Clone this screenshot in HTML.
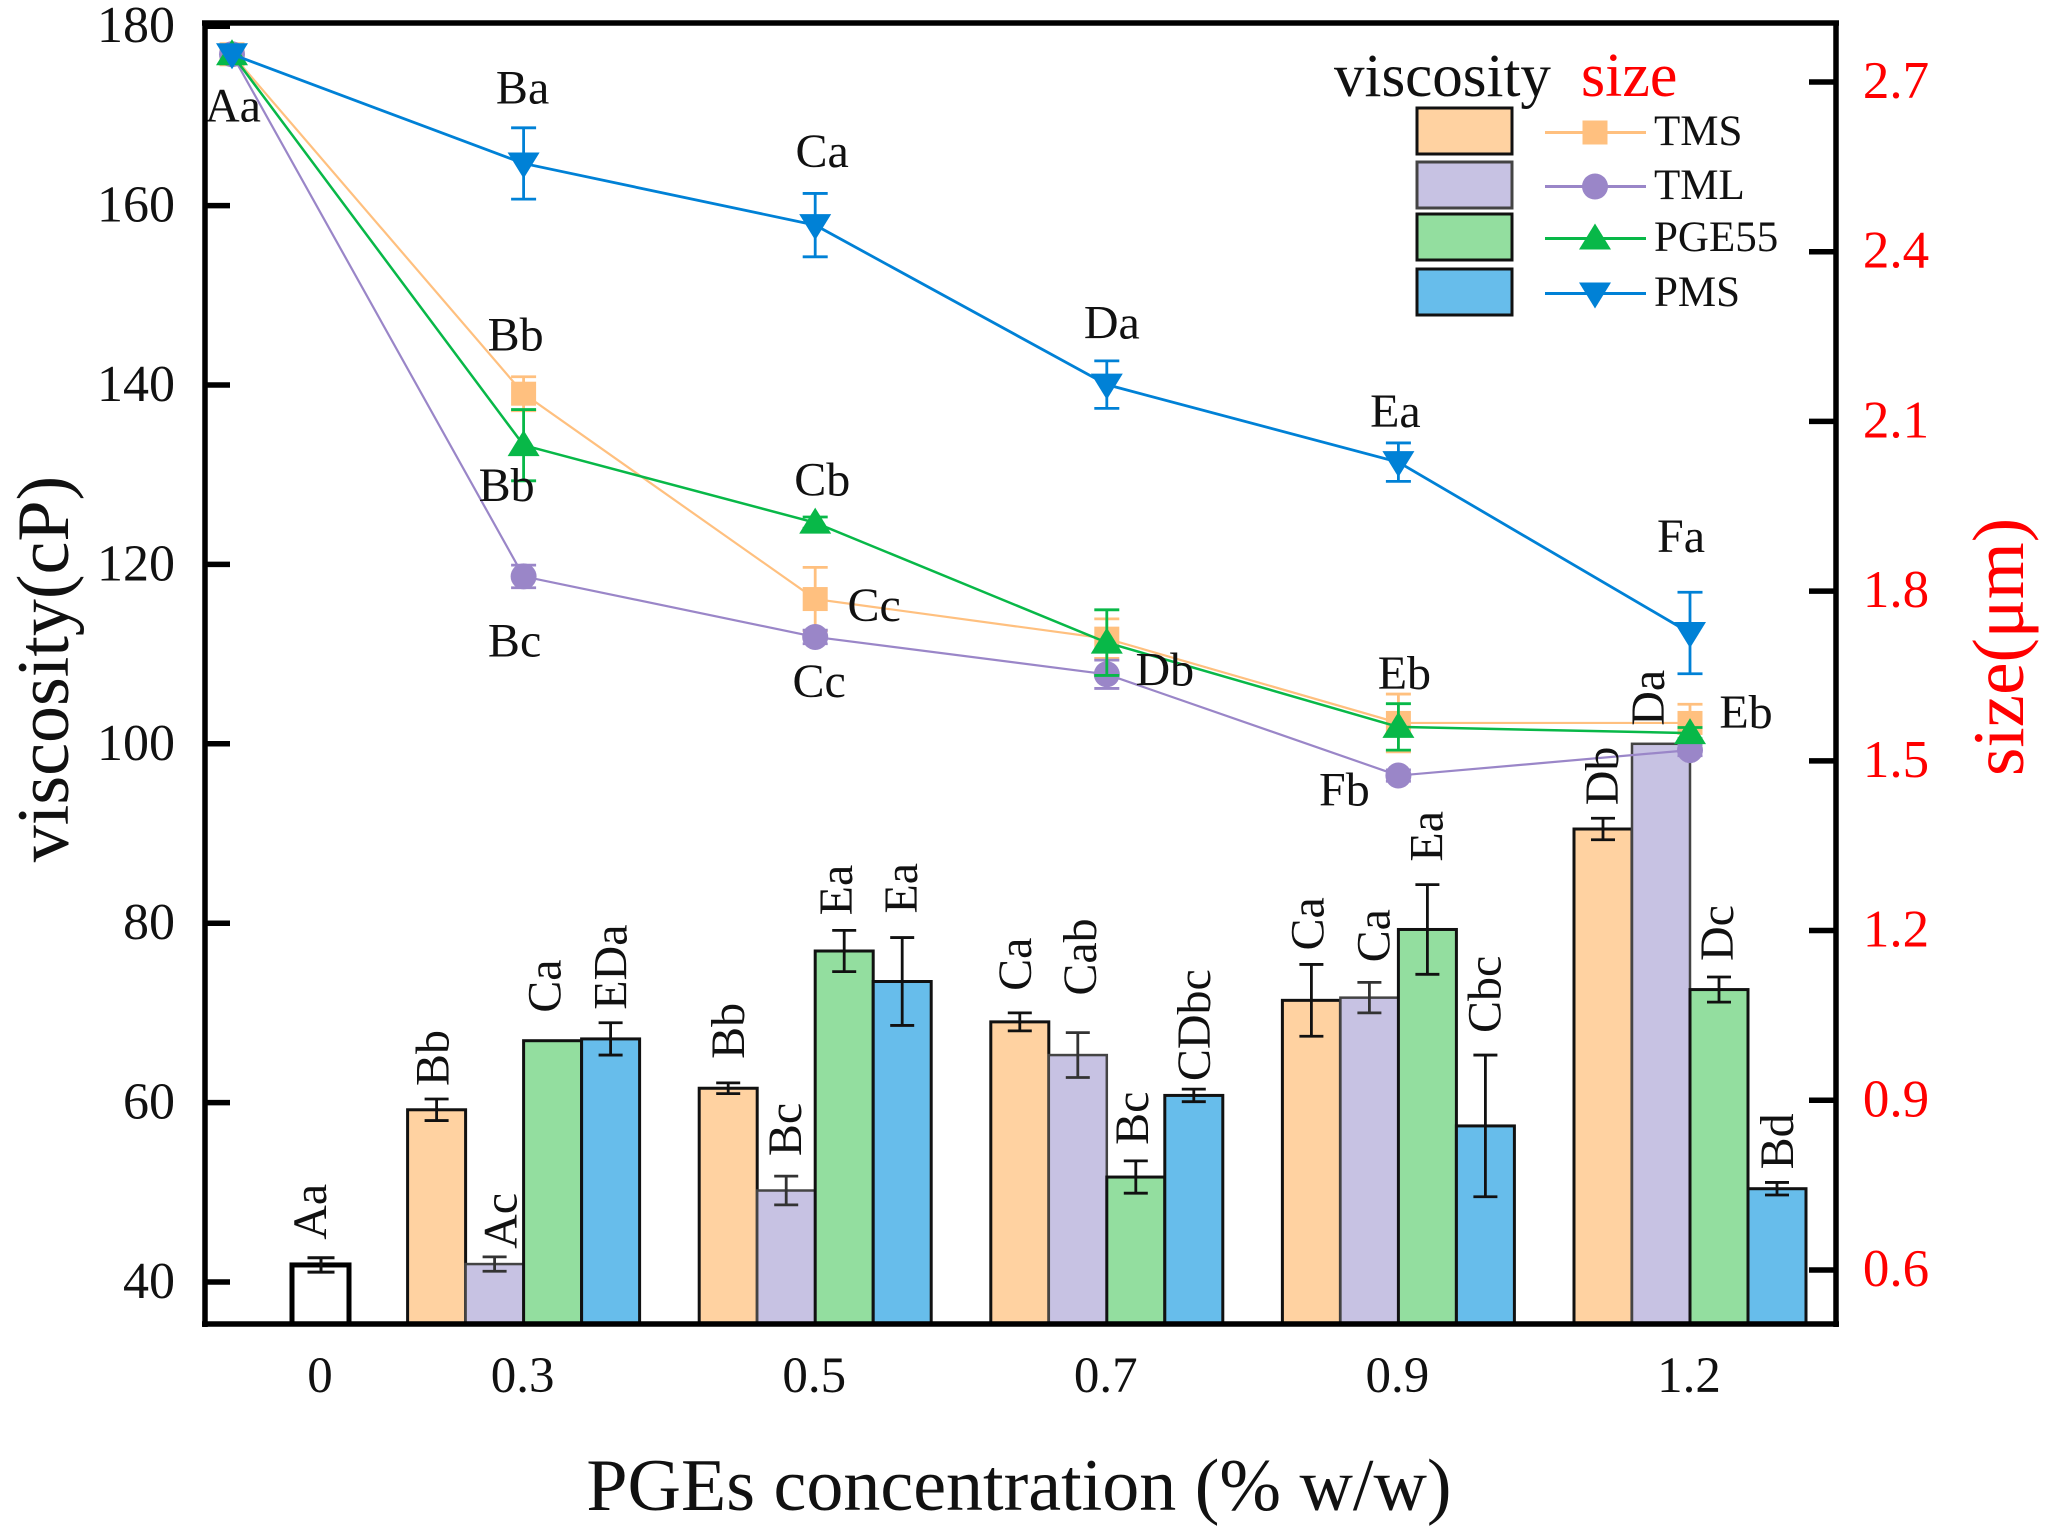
<!DOCTYPE html>
<html lang="en">
<head>
<meta charset="utf-8">
<title>Viscosity and size vs PGEs concentration</title>
<style>
html,body{margin:0;padding:0;background:#fff;}
svg{display:block;}
text{font-family:"Liberation Serif","DejaVu Serif",serif;fill:#111;}
</style>
</head>
<body>
<svg id="chart" xmlns="http://www.w3.org/2000/svg" width="2062" height="1536" viewBox="0 0 2062 1536">
<rect x="0" y="0" width="2062" height="1536" fill="#ffffff"/>
<g id="bars"></g>
<g id="lines"></g>
<g id="labels"></g>
<g id="axes"></g>
<text transform="translate(68,669) rotate(-90)" text-anchor="middle" font-size="74">viscosity(cP)</text>
<text transform="translate(2023,647) rotate(-90)" text-anchor="middle" font-size="73" style="fill:#ff0000">size(μm)</text>
<text x="1019" y="1510" text-anchor="middle" font-size="74">PGEs concentration (% w/w)</text>
<g id="legend">
<text x="1334" y="96" font-size="61">viscosity</text>
<text x="1581" y="96" font-size="62" style="fill:#ff0000">size</text>
</g>
</svg>
<script>
var categories = ['0', '0.3', '0.5', '0.7', '0.9', '1.2'];
var seriesNames = ['TMS', 'TML', 'PGE55', 'PMS'];
var leftTicks = [40, 60, 80, 100, 120, 140, 160, 180];
var rightTicks = [0.6, 0.9, 1.2, 1.5, 1.8, 2.1, 2.4, 2.7];

var controlViscosity = 41.9;
var controlViscosityErr = 0.8;
var viscosityTMS = [59.2, 61.6, 69.0, 71.4, 90.5];
var viscosityTML = [42.0, 50.2, 65.3, 71.7, 100.0];
var viscosityPGE = [66.9, 76.9, 51.7, 79.3, 72.6];
var viscosityPMS = [67.1, 73.5, 60.8, 57.4, 50.4];
var viscosityErrTMS = [1.2, 0.6, 1.0, 4.0, 1.2];
var viscosityErrTML = [0.8, 1.6, 2.5, 1.7, 0];
var viscosityErrPGE = [0, 2.3, 1.8, 5.0, 1.4];
var viscosityErrPMS = [1.8, 4.9, 0.7, 7.9, 0.7];

var sizeTMS = [2.749, 2.149, 1.786, 1.716, 1.567, 1.567];
var sizeTML = [2.749, 1.826, 1.719, 1.653, 1.474, 1.519];
var sizePGE = [2.749, 2.058, 1.921, 1.709, 1.560, 1.549];
var sizePMS = [2.749, 2.556, 2.447, 2.165, 2.028, 1.726];
var sizeErrTMS = [0, 0.030, 0.056, 0.035, 0.051, 0.033];
var sizeErrTML = [0, 0.020, 0.012, 0.025, 0.010, 0.010];
var sizeErrPGE = [0, 0.063, 0.010, 0.058, 0.041, 0.010];
var sizeErrPMS = [0, 0.063, 0.056, 0.042, 0.034, 0.072];

var controlLabel = 'Aa';
var barLabelsTMS = ['Bb', 'Bb', 'Ca', 'Ca', 'Db'];
var barLabelsTML = ['Ac', 'Bc', 'Cab', 'Ca', 'Da'];
var barLabelsPGE = ['Ca', 'Ea', 'Bc', 'Ea', 'Dc'];
var barLabelsPMS = ['EDa', 'Ea', 'CDbc', 'Cbc', 'Bd'];

var SVGNS = 'http://www.w3.org/2000/svg';
var PLOT_LEFT = 205, PLOT_RIGHT = 1836, PLOT_TOP = 23, PLOT_BOTTOM = 1324;
var BAR_W = 58;

function xPos(i) { return 232 + i * 291.6; }
function barX(i, s) { return xPos(i) + (s - 1.5) * BAR_W; }
function yLeft(v) { return 1282 - (v - 40) * 8.97; }
function yRight(v) { return 82 + (2.7 - v) * 565.7; }

function make(tag, parent, attrs) {
  var el = document.createElementNS(SVGNS, tag);
  for (var k in attrs) { el.setAttribute(k, attrs[k]); }
  parent.appendChild(el);
  return el;
}

var barsG = document.getElementById('bars');
var linesG = document.getElementById('lines');
var labelsG = document.getElementById('labels');
var axesG = document.getElementById('axes');
var legendG = document.getElementById('legend');

var barFills = ['#FFD2A1', '#C7C2E3', '#93DE9F', '#67BDEB'];
var barStrokes = ['#111', '#444', '#111', '#111'];
var lineColors = ['#FFC07F', '#9A86C8', '#08B848', '#0081D6'];
var lineWidths = [2.2, 2.2, 2.5, 2.8];

/* layout nudges for the manually placed labels: [dx from bar centre, gap above error cap] */
var barNudges = [
  [[-3, 13], [1, 24], [-4, 22], [-3, 14], [0, 13]],
  [[7, 8], [0, 20], [3, 37], [5, 20], [-12, 18]],
  [[-7, 28], [-7, 15], [-3, 16], [0, 23], [-1, 16]],
  [[1, 13], [0, 24], [1, 8], [0, 22], [1, 13]]
];

function drawErr(parent, x, yTop, yBot, cap, color, width) {
  var stem = make('line', parent, {x1: x, x2: x, y1: yTop, y2: yBot, stroke: color, 'stroke-width': width});
  
  
  var c1 = make('line', parent, {x1: x - cap / 2, x2: x + cap / 2, y1: yTop, y2: yTop, stroke: color, 'stroke-width': width});
  
  
  var c2 = make('line', parent, {x1: x - cap / 2, x2: x + cap / 2, y1: yBot, y2: yBot, stroke: color, 'stroke-width': width});
  
  
}

function drawRotLabel(text, cx, bottom) {
  var t = make('text', labelsG, {transform: 'translate(' + (cx + 15) + ',' + bottom + ') rotate(-90)', 'font-size': 48});
  t.textContent = text;
  
  
}

/* control bar (0 % w/w) */
(function () {
  var cx = barX(0, 3);
  var top = yLeft(controlViscosity);
  var r = make('rect', barsG, {x: 292, y: top, width: 57, height: PLOT_BOTTOM - top, fill: '#ffffff', stroke: '#000', 'stroke-width': 5});
  
  
  drawErr(barsG, cx + 2, yLeft(controlViscosity + controlViscosityErr), yLeft(controlViscosity - controlViscosityErr), 27, '#111', 3);
  drawRotLabel(controlLabel, cx - 8, yLeft(controlViscosity + controlViscosityErr) - 18);
})();

var barValues = [viscosityTMS, viscosityTML, viscosityPGE, viscosityPMS];
var barErrs = [viscosityErrTMS, viscosityErrTML, viscosityErrPGE, viscosityErrPMS];
var barTexts = [barLabelsTMS, barLabelsTML, barLabelsPGE, barLabelsPMS];

barValues.forEach(function (vals, s) {
  vals.forEach(function (v, k) {
    var i = k + 1;
    var cx = barX(i, s);
    var top = yLeft(v);
    var r = make('rect', barsG, {x: cx - BAR_W / 2, y: top, width: BAR_W, height: PLOT_BOTTOM - top, fill: barFills[s], stroke: barStrokes[s], 'stroke-width': s === 1 ? 2.5 : 3});
    
    
  });
});
barValues.forEach(function (vals, s) {
  vals.forEach(function (v, k) {
    var i = k + 1;
    var cx = barX(i, s);
    var e = barErrs[s][k];
    if (e > 0) {
      drawErr(barsG, cx, yLeft(v + e), yLeft(v - e), 24, s === 1 ? '#333' : '#111', 2.8);
    }
    var nudge = barNudges[s][k];
    drawRotLabel(barTexts[s][k], cx + nudge[0], yLeft(v + e) - nudge[1]);
  });
});

function drawMarker(parent, s, x, y) {
  var c = lineColors[s], m;
  if (s === 0) {
    m = make('rect', parent, {x: x - 12.5, y: y - 12, width: 25, height: 24, fill: c});
  } else if (s === 1) {
    m = make('circle', parent, {cx: x, cy: y, r: 13, fill: c});
  } else if (s === 2) {
    m = make('polygon', parent, {points: (x - 16) + ',' + (y + 11) + ' ' + (x + 16) + ',' + (y + 11) + ' ' + x + ',' + (y - 15), fill: c});
  } else {
    m = make('polygon', parent, {points: (x - 16) + ',' + (y - 11) + ' ' + (x + 16) + ',' + (y - 11) + ' ' + x + ',' + (y + 15), fill: c});
  }
  
  
}

var sizeValues = [sizeTMS, sizeTML, sizePGE, sizePMS];
var sizeErrs = [sizeErrTMS, sizeErrTML, sizeErrPGE, sizeErrPMS];

sizeValues.forEach(function (vals, s) {
  var g = make('g', linesG, {});
  
  
  var pts = vals.map(function (v, i) { return xPos(i) + ',' + yRight(v); }).join(' ');
  var pl = make('polyline', g, {points: pts, fill: 'none', stroke: lineColors[s], 'stroke-width': lineWidths[s]});
  
  
  vals.forEach(function (v, i) {
    var e = sizeErrs[s][i];
    if (e > 0) {
      drawErr(g, xPos(i), yRight(v + e), yRight(v - e), 25, lineColors[s], 2.8);
    }
  });
  vals.forEach(function (v, i) {
    drawMarker(g, s, xPos(i), yRight(v));
  });
});

/* point labels: [text, series, point index, dx, dy] */
var pointLabelLayout = [
  ['Aa', 3, 0, 1, 52], ['Ba', 3, 1, -1, -75], ['Ca', 3, 2, 7, -73], ['Da', 3, 3, 5, -61], ['Ea', 3, 4, -3, -50], ['Fa', 3, 5, -9, -96],
  ['Bb', 0, 1, -8, -58], ['Cc', 0, 2, 59, 7], ['Eb', 0, 4, 6, -49], ['Eb', 0, 5, 56, -10],
  ['Bb', 2, 1, -17, 41], ['Cb', 2, 2, 7, -42],
  ['Bc', 1, 1, -9, 65], ['Cc', 1, 2, 4, 45], ['Db', 1, 3, 58, -4], ['Fb', 1, 4, -54, 15]
];
pointLabelLayout.forEach(function (p) {
  var x = xPos(p[2]) + p[3];
  var y = yRight(sizeValues[p[1]][p[2]]) + p[4] + 15;
  var t = make('text', labelsG, {x: x, y: y, 'text-anchor': 'middle', 'font-size': 48});
  t.textContent = p[0];
  
  
});

/* axes */
var frameParts = [
  ['axis-top', PLOT_LEFT - 3, PLOT_TOP, PLOT_RIGHT + 3, PLOT_TOP, 5.5],
  ['axis-left', PLOT_LEFT, PLOT_TOP - 2, PLOT_LEFT, PLOT_BOTTOM + 3, 5.5],
  ['axis-right', PLOT_RIGHT, PLOT_TOP - 2, PLOT_RIGHT, PLOT_BOTTOM + 3, 5.5],
  ['axis-bottom', PLOT_LEFT - 3, PLOT_BOTTOM, PLOT_RIGHT + 3, PLOT_BOTTOM, 5.5]
];
frameParts.forEach(function (f) {
  var l = make('line', axesG, {x1: f[1], y1: f[2], x2: f[3], y2: f[4], stroke: '#000', 'stroke-width': f[5]});
  
  
});

leftTicks.forEach(function (v) {
  var y = yLeft(v);
  var l = make('line', axesG, {x1: PLOT_LEFT, y1: Math.max(y, PLOT_TOP + 3), x2: PLOT_LEFT + 25, y2: Math.max(y, PLOT_TOP + 3), stroke: '#000', 'stroke-width': 5.5});
  
  
  var t = make('text', axesG, {x: 175, y: y + 16, 'text-anchor': 'end', 'font-size': 52});
  t.textContent = String(v);
  
  
});

rightTicks.forEach(function (v) {
  var y = yRight(v);
  var l = make('line', axesG, {x1: PLOT_RIGHT - 27, y1: y, x2: PLOT_RIGHT, y2: y, stroke: '#000', 'stroke-width': 5.5});
  
  
  var t = make('text', axesG, {x: 1896, y: y + 16, 'text-anchor': 'middle', 'font-size': 53, style: 'fill:#ff0000'});
  t.textContent = v.toFixed(1);
  
  
});

categories.forEach(function (c, i) {
  var x = i === 0 ? 320 : xPos(i) - 1;
  var t = make('text', axesG, {x: x, y: 1392, 'text-anchor': 'middle', 'font-size': 51});
  t.textContent = c;
  
  
});

/* legend */
var legendRowsY = [131, 185, 237, 292];
seriesNames.forEach(function (name, s) {
  var cy = legendRowsY[s];
  var sw = make('rect', legendG, {x: 1417, y: cy - 23, width: 95, height: 46, fill: barFills[s], stroke: barStrokes[s], 'stroke-width': 3});
  
  
  var ln = make('line', legendG, {x1: 1545, y1: cy + 1.5, x2: 1646, y2: cy + 1.5, stroke: lineColors[s], 'stroke-width': 3});
  
  
  drawMarker(legendG, s, 1595, cy + 1.5);
  var t = make('text', legendG, {x: 1654, y: cy + 14, 'font-size': 43});
  t.textContent = name;
  
  
});
</script>
</body>
</html>
